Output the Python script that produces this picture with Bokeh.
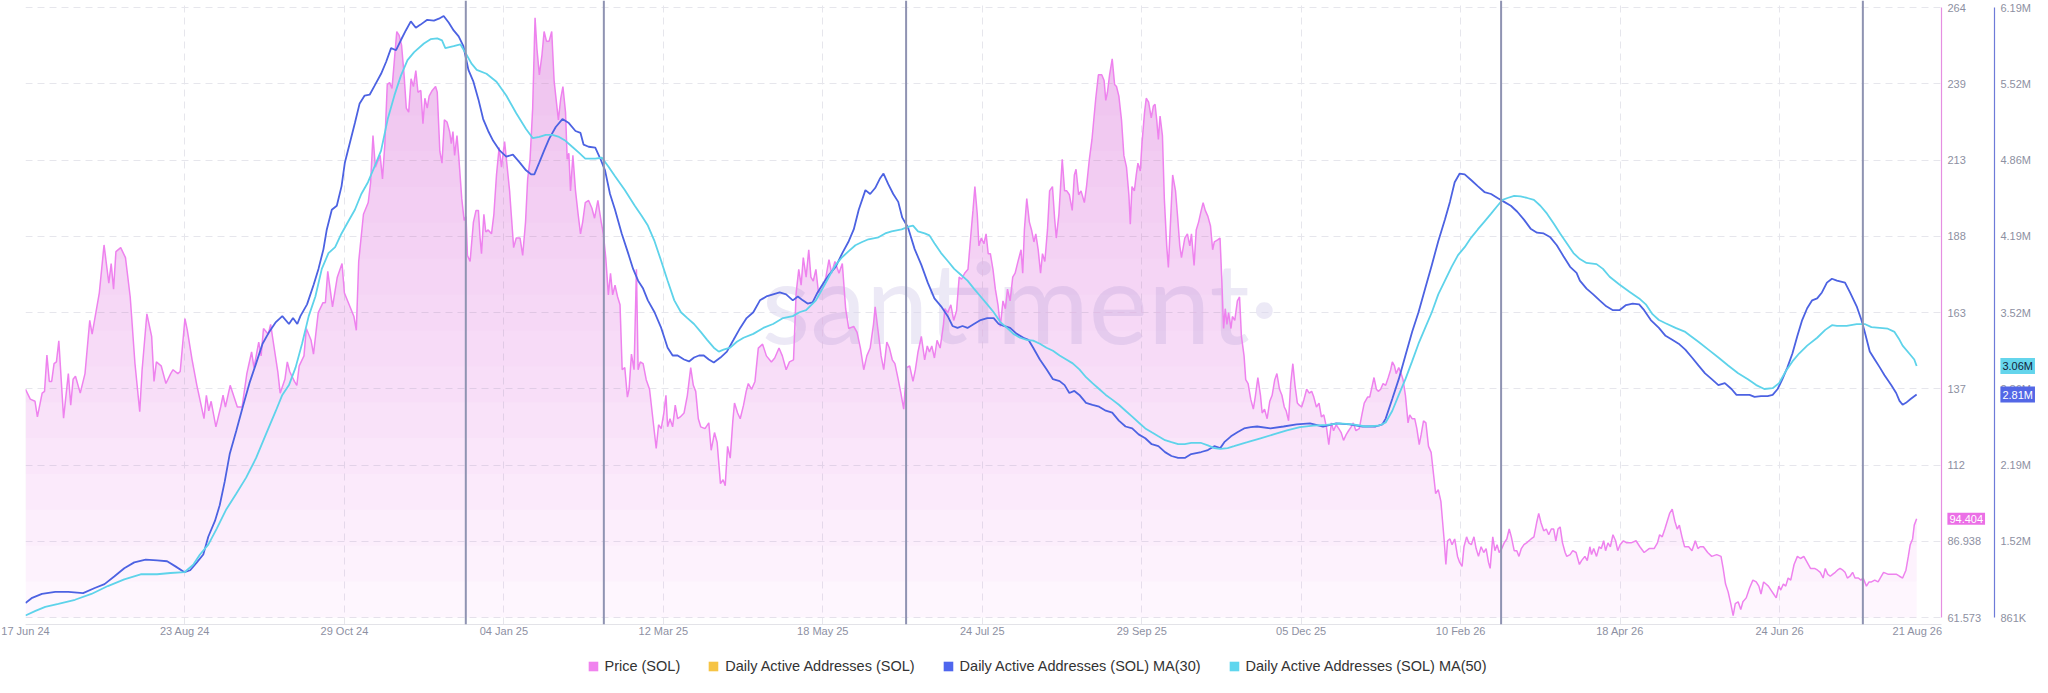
import numpy as np
import pandas as pd
from bokeh.plotting import figure
from bokeh.layouts import column
from bokeh.models import (Range1d, LinearAxis, FixedTicker, CustomJSTickFormatter,
                          Span, Label, Legend, LegendItem, BoxAnnotation)
from bokeh.embed import file_html
from bokeh.resources import INLINE

START = "2024-06-17"

# ---------------- data ----------------
price_days = [0, 2, 4, 5, 7, 8, 9, 10, 11, 12, 13, 14, 15, 16, 18, 19, 20, 21, 23, 25, 27, 28, 29, 31, 33, 35, 36, 37, 38, 40,
              42, 44, 46, 48, 49, 51, 53, 54, 55, 57, 59, 61, 62, 64, 65, 67, 68, 70, 72, 75, 76, 77, 78, 80, 82, 83, 84, 86, 89, 91,
              93, 95, 96, 98, 99, 100, 102, 103, 104, 106, 107, 109, 110, 111, 113, 114, 115, 117, 118, 120, 121, 123, 125, 126, 127, 129, 131, 133, 134, 136,
              138, 139, 140, 142, 144, 145, 146, 147, 149, 150, 151, 152, 153, 154, 156, 157, 158, 159, 160, 161,
              162.0, 163.0, 164.0, 164.9, 166.1, 167.0, 167.8, 168.8, 169.6, 170.9, 172.3, 173.0, 174.1, 175.0, 176.0, 177.1, 178.2, 178.9, 179.6, 180.3,
              181.3, 182.0, 183.3, 184.3, 185.1, 185.7, 186.8, 188.2, 189.3, 190.3, 191.0, 191.6, 192.6, 193.4, 194.4, 195.8, 196.8, 197.9, 199.0, 200.0,
              201.3, 202.4, 203.4, 204.1, 205.1, 206.2, 207.8, 208.9, 210.1, 211.0, 212.0, 213.1, 214.1, 214.9, 215.9, 217.0, 217.9, 218.9, 220.0, 221.1,
              222.1, 222.8, 223.9, 224.9, 225.8, 226.9, 227.6, 228.3, 229.0, 230.0, 231.1, 232.2, 233.2, 234.1, 235.2, 236.6, 238.0, 239.1, 240.5, 241.9,
              242.8, 243.8, 244.9, 245.8, 246.7, 247.7, 248.8, 249.8, 250.7, 251.8, 252.9, 253.6, 254.6, 255.7, 256.7, 257.4, 258.3, 259.5, 260.8, 262.2,
              263.6, 265.0, 266.0, 267.1, 268.2, 269.1, 269.8, 270.8, 271.9, 273.0, 274.0, 275.1, 276.7, 278.1, 279.5, 280.6, 281.6, 282.7, 283.7, 285.5,
              287.1, 288.1, 289.5, 290.6, 292.0, 293.1, 294.0, 295.0, 296.1, 297.2, 297.9, 299.2, 300.3, 301.7, 302.8, 303.7, 305.1, 306.5, 307.9, 309.7,
              311.3, 313.4, 314.8, 316.6, 318.0, 319.6, 321.0, 322.7,
              323.8, 324.9, 325.9, 326.8, 328.0, 329.1, 330.0, 331.0, 332.1, 333.2, 334.6, 336.3, 337.6, 338.7, 340.1, 341.8, 343.2, 344.6, 345.9, 348.0,
              349.4, 350.8, 352.2, 353.5, 354.9, 356.3, 357.0, 358.1, 359.5, 360.6, 361.9, 363.0, 364.2, 365.3, 366.7, 367.8, 369.0, 370.2, 371.5, 372.9,
              373.9, 375.0, 376.4, 377.8, 378.9, 379.8, 380.8, 381.9, 383.0, 384.3, 385.7, 386.3, 387.5, 388.8, 390.0, 391.2, 392.3, 393.3, 394.6, 396.0,
              397.1, 398.1, 398.9, 399.9, 400.6, 401.6, 402.7, 403.6, 404.5, 405.4, 406.5, 407.5, 408.6, 409.6, 410.7, 411.7, 412.6, 413.7, 414.8, 415.8,
              417.2, 418.3, 419.0, 419.7, 420.7, 421.8, 422.7, 423.7, 424.5, 425.5, 426.5, 427.3, 428.3, 429.4, 430.3, 431.5, 432.4, 433.1, 434.2, 435.6,
              436.6, 437.5, 438.6, 439.8, 440.7, 441.4, 442.5, 443.5, 444.9, 445.8, 447.0, 448.1, 449.0, 449.7, 450.8, 452.2, 453.2, 453.9, 454.6, 455.5,
              456.6, 457.6, 458.4, 459.4, 460.5, 461.5, 462.6, 463.6, 464.2, 464.9, 465.9, 466.7, 467.4, 468.4, 469.1, 470.2, 470.9, 471.9, 473.0, 473.9,
              474.6, 475.3, 476.0, 476.7, 477.7, 478.5, 479.5, 480.2, 481.1, 482.0, 483.2, 484.0, 485.0,
              485.7, 487.1, 488.2, 489.2, 489.9, 491.0, 491.9, 492.9, 494.0, 494.8, 495.7, 496.8, 497.9, 498.8, 499.5, 500.9, 501.9, 502.6, 503.4, 504.1,
              504.8, 505.5, 506.5, 507.1, 508.1, 509.2, 510.1, 510.9, 512.0, 512.7, 513.7, 514.8, 515.9, 516.8, 517.8, 518.9, 519.6, 520.6, 521.7, 522.8,
              523.8, 524.9, 525.8, 526.9, 527.9, 528.9, 529.7, 530.7, 531.6, 532.5, 533.4, 534.4, 535.2, 536.2, 537.2, 538.3, 539.4, 540.4, 541.3, 542.4,
              543.5, 544.5, 545.5, 546.6, 547.6, 548.7, 549.6, 550.7, 551.8, 552.8, 553.8, 554.9, 555.9, 557.0, 557.9, 559.0, 560.4, 561.5, 562.5, 563.9,
              564.8, 565.7, 566.6, 567.6, 568.4, 569.4, 570.4, 571.5, 572.6, 573.6, 574.3, 575.2, 575.9, 577.0, 578.0, 578.8, 579.8, 580.9, 581.6, 582.6,
              583.7, 584.6, 585.6, 586.4, 587.4, 588.4, 589.5, 590.6, 591.6, 592.5, 593.6, 594.7, 595.4, 596.1, 596.8, 597.5, 598.5, 599.4, 600.5, 601.7,
              602.6, 603.6, 604.4, 605.5, 606.4, 607.5, 608.6, 609.5, 610.5, 611.6, 612.7, 613.7, 614.7, 615.4, 616.5, 617.4, 618.3, 619.2, 620.3, 621.3,
              622.4, 623.4, 624.3, 625.5, 626.6, 627.5, 628.5, 629.6, 630.7, 631.7, 632.6, 633.8, 634.9, 635.8, 636.8, 637.9, 639.0, 640.0, 641.1, 642.1,
              643.0, 643.9, 644.8, 645.8, 646.9,
              647.6, 649.0, 650.1, 651.5, 652.9, 653.8, 655.2, 656.2, 657.3, 658.0, 658.9, 660.1, 661.2, 662.1, 663.1, 663.9, 664.9, 665.9, 667.0, 668.1,
              669.0, 670.0, 671.4, 672.8, 674.6, 676.7, 678.3, 680.1, 682.2, 684.3, 685.7, 686.6, 687.7, 688.8, 689.8, 690.8, 691.9, 693.0, 694.0, 694.9,
              696.0, 697.1, 698.8, 700.2, 701.6, 702.7, 703.6, 705.0, 706.8, 708.5, 710.6, 712.4, 713.3, 714.3, 715.4, 716.5, 717.5, 718.4, 719.6, 720.7,
              721.6, 723.0, 724.4, 725.8, 727.2, 728.3, 729.2, 730.3, 731.3, 732.3, 733.4, 734.5, 735.6, 736.7, 737.5, 738.6, 739.6, 740.6, 741.7, 743.1,
              744.5, 745.8, 747.2, 748.6, 750.0, 751.7, 753.0, 754.1, 755.3, 756.2, 757.2, 758.3, 759.4, 760.4, 761.3, 762.4, 763.6, 764.5, 765.5, 766.6,
              767.7, 768.7, 770.1, 771.2, 772.1, 773.5, 774.6, 775.6, 777.0, 778.4, 779.3, 780.7, 782.5, 784.6, 786.0, 787.4, 788.7, 790.1, 791.1, 791.9,
              792.9, 793.6, 794.6]

price = [137.5, 134.2, 133.5, 128.3, 136.2, 136.8, 148.9, 140.1, 140.1, 146.0, 146.6, 153.6, 140.8, 127.9, 142.7, 132.2, 140.8, 141.8, 136.2, 142.7,
         160.4, 155.8, 160.4, 169.5, 185.5, 172.8, 179.3, 170.8, 183.3, 184.6, 181.3, 168.2, 146.0, 130.0, 144.0, 162.6, 155.1, 140.1, 146.6, 145.3,
         139.4, 142.7, 144.0, 142.7, 143.4, 161.0, 157.1, 147.3, 138.8, 127.7, 135.5, 130.3, 133.5, 125.0, 131.6, 135.5, 131.6, 138.8, 131.6, 131.6,
         142.7, 149.9, 144.7, 153.2, 148.6, 157.7, 155.8, 159.1, 153.8, 143.4, 136.2, 140.8, 146.6, 143.4, 140.1, 138.8, 145.3, 148.6, 157.7, 153.8,
         149.2, 163.0, 166.3, 166.3, 176.7, 164.9, 174.8, 179.3, 169.5, 165.6, 161.7, 157.1, 180.0, 195.7, 199.6, 206.2, 221.9, 211.4, 215.3, 207.5,
         219.3, 238.9, 239.5, 237.6, 256.5, 255.2, 252.0, 242.8, 231.0, 229.7,
         240.8, 238.2, 243.5, 236.3, 236.9, 225.8, 234.3, 231.0, 235.0, 236.9, 238.2, 236.3, 216.6, 212.7, 227.1, 226.4, 223.2, 219.2, 223.2, 215.3,
         221.9, 215.3, 200.9, 193.7, 195.0, 182.0, 180.0, 193.1, 197.0, 197.0, 187.8, 182.6, 195.7, 189.8, 190.5, 189.2, 195.7, 208.8, 217.9, 211.4,
         219.9, 211.4, 203.5, 195.7, 184.6, 187.8, 187.8, 182.0, 193.1, 207.5, 214.0, 231.0, 261.1, 250.7, 242.1, 248.7, 256.5, 253.3, 253.3, 256.5,
         240.2, 235.0, 227.1, 234.3, 238.2, 229.7, 214.0, 216.0, 203.5, 215.3, 203.5, 195.7, 189.2, 193.1, 199.6, 200.3, 197.7, 194.4, 200.3, 193.1,
         189.2, 181.3, 168.9, 176.1, 168.9, 172.1, 168.2, 165.6, 144.0, 144.7, 134.9, 137.5, 149.2, 144.0, 177.4, 144.0, 146.6, 146.0, 140.7, 137.5,
         127.7, 117.8, 125.7, 124.4, 129.6, 135.5, 125.0, 127.7, 125.0, 132.2, 127.7, 128.3, 129.6, 135.5, 144.7, 138.8, 136.8, 127.7, 125.0, 124.4,
         126.3, 117.2, 123.1, 119.8, 106.1, 107.4, 105.4, 118.5, 114.6, 127.0, 132.9, 129.6, 127.7, 132.2, 136.8, 139.4, 137.5, 140.1, 151.2, 152.5,
         148.6, 146.6, 147.9, 151.2, 148.6, 144.0, 146.6, 147.3,
         169.5, 177.4, 172.1, 181.3, 174.8, 183.9, 174.8, 173.5, 177.4, 169.5, 170.8, 174.8, 180.6, 176.1, 180.0, 176.1, 179.3, 164.3, 157.7, 158.4,
         156.4, 151.2, 144.0, 148.6, 151.2, 159.1, 164.9, 157.7, 148.6, 144.0, 153.2, 151.2, 147.3, 146.0, 140.7, 136.2, 130.9, 144.7, 145.3, 140.1,
         144.0, 149.9, 155.1, 147.3, 151.9, 149.9, 151.9, 147.9, 153.8, 151.2, 159.1, 164.3, 163.0, 165.6, 160.4, 163.6, 174.8, 174.1, 176.1, 177.4,
         187.8, 197.0, 204.9, 195.7, 185.2, 187.8, 185.9, 189.2, 182.6, 182.6, 177.4, 170.8, 165.6, 158.4, 166.9, 164.3, 170.8, 166.9, 174.8, 176.1,
         180.6, 183.9, 176.1, 190.5, 200.9, 193.1, 190.5, 186.5, 189.2, 183.9, 176.1, 182.6, 180.0, 190.5, 203.5, 204.9, 194.4, 187.8, 195.7, 214.0,
         203.5, 203.5, 202.2, 197.0, 208.8, 210.7, 202.2, 203.5, 199.6, 204.9, 214.0, 220.6, 228.4, 234.3, 242.1, 242.1, 240.2, 233.6, 236.3, 242.1,
         247.4, 238.9, 238.2, 235.0, 227.1, 215.3, 211.4, 202.2, 192.4, 204.9, 203.5, 208.8, 212.7, 210.1, 219.2, 229.7, 234.3, 233.0, 227.8, 231.7,
         232.3, 227.1, 220.6, 228.4, 221.9, 200.9, 185.2, 178.0, 193.1, 208.8, 203.5, 195.7, 185.2,
         181.3, 187.8, 189.2, 185.2, 189.2, 178.7, 190.5, 193.1, 197.0, 199.6, 197.0, 195.0, 191.8, 183.9, 186.5, 187.2, 187.8, 174.8, 157.7, 164.3,
         159.1, 163.0, 157.7, 161.7, 160.4, 166.9, 168.2, 155.1, 148.6, 140.7, 139.4, 134.2, 130.9, 135.5, 141.4, 135.5, 129.6, 130.9, 127.7, 133.5,
         135.5, 140.7, 142.7, 137.5, 135.5, 131.6, 130.3, 127.0, 139.4, 146.0, 138.8, 132.9, 132.2, 131.6, 134.2, 137.5, 136.2, 136.8, 134.9, 131.6,
         132.9, 128.3, 129.0, 125.0, 119.1, 126.3, 123.7, 125.7, 124.4, 123.1, 120.5, 122.4, 123.7, 125.0, 126.3, 123.7, 124.4, 129.0, 132.9, 134.9,
         134.9, 138.1, 141.4, 137.5, 136.8, 137.5, 139.4, 138.8, 141.4, 144.0, 146.6, 145.3, 142.7, 144.7, 142.7, 140.7, 135.5, 126.3, 129.0, 127.7,
         127.7, 124.4, 119.1, 122.4, 127.0, 126.3, 118.5, 116.5, 109.3, 102.8, 104.1, 100.2, 93.6, 87.1, 79.2, 87.1, 87.7, 85.8, 87.7, 81.9,
         79.9, 78.6, 85.1, 88.4, 86.4, 85.8, 88.4, 84.5, 81.9, 85.1, 83.2, 84.5, 79.9, 77.9, 88.4, 83.8, 85.8, 83.2, 84.5, 86.4,
         87.7, 91.0, 88.4, 83.8, 83.8, 81.9, 84.5, 85.8, 86.4, 87.1, 87.7, 88.4, 93.0, 96.2, 93.0, 90.4, 91.0, 89.1, 91.0, 91.0,
         87.1, 91.0, 91.7, 86.4, 83.2,
         81.9, 82.5, 83.8, 83.2, 79.2, 80.5, 81.9, 80.5, 85.1, 82.5, 84.5, 81.9, 85.1, 84.5, 87.1, 83.8, 86.4, 85.1, 89.1, 87.1,
         83.8, 85.8, 87.1, 86.4, 86.4, 87.1, 85.1, 83.2, 84.5, 84.5, 86.4, 89.1, 88.4, 91.0, 93.6, 96.2, 97.6, 93.6, 91.0, 92.3,
         88.4, 85.1, 85.1, 83.8, 87.1, 84.5, 85.1, 85.1, 83.2, 81.9, 82.5, 81.9, 77.9, 72.7, 70.1, 66.2, 62.2, 66.2, 66.8, 64.2,
         66.8, 68.1, 71.4, 74.0, 73.4, 72.0, 69.4, 73.4, 72.7, 72.0, 70.7, 69.4, 68.1, 72.0, 70.7, 72.7, 72.0, 74.7, 74.0, 79.2,
         81.9, 81.2, 81.9, 79.9, 77.9, 77.9, 77.3, 76.6, 74.7, 77.9, 76.0, 75.3, 76.0, 76.6, 77.3, 77.9, 77.3, 76.6, 74.7, 75.3,
         76.6, 74.7, 74.7, 74.0, 74.7, 72.0, 73.4, 73.4, 74.0, 73.4, 74.7, 76.6, 76.0, 76.0, 76.0, 75.3, 74.7, 77.3, 81.9, 85.8,
         87.7, 92.3, 94.404]

# Daily Active Addresses (SOL) MA(30), in millions
ma30_days = [0.0, 2.8, 6.9, 12.5, 18.0, 24.2, 29.1, 33.2, 37.4, 41.5, 45.7, 50.5, 55.3, 59.5, 63.0, 66.8, 69.2, 72.0, 74.7, 76.8,
             79.6, 81.6, 83.7, 85.8, 88.6, 91.3, 94.1, 96.9, 99.6, 102.4, 105.2, 107.9, 110.7, 112.4, 114.2, 115.5, 118.3, 121.1, 123.1, 125.2,
             126.6, 128.7, 130.8, 132.8, 134.2, 136.3, 138.4, 140.4, 142.5, 144.6, 146.7, 149.4, 151.5, 153.6, 155.7, 157.7, 159.8, 161.9,
             164.0, 166.0, 168.8, 171.6, 173.7, 175.7, 177.8, 179.9, 182.0, 184.0, 186.1, 188.2, 190.3, 192.3, 194.4, 196.5, 199.3, 202.0, 204.8, 207.6,
             210.3, 212.4, 213.8, 215.9, 217.9, 220.0, 222.8, 225.6, 228.3, 231.1, 233.2, 234.5, 236.6, 239.4, 241.5, 243.5, 245.6, 247.7, 250.5, 253.2,
             255.3, 257.4, 259.5, 261.5, 264.3, 267.1, 269.8, 271.9, 274.0, 276.7, 278.8, 280.9, 283.0, 285.0, 287.1, 289.2, 292.0, 294.7, 297.5, 300.3,
             303.0, 305.8, 308.6, 311.3, 314.1, 316.9, 319.6, 322.4, 324.5, 326.6,
             328.6, 330.7, 332.8, 334.9, 337.6, 340.4, 343.2, 345.9, 348.0, 350.1, 352.9, 354.9, 357.0, 359.1, 360.5, 362.5, 364.6, 366.7, 368.4, 370.8,
             373.6, 376.4, 379.1, 381.9, 384.7, 387.5, 389.5, 391.6, 393.7, 395.8, 398.5, 401.3, 404.1, 406.8, 408.9, 411.0, 413.7, 416.5, 419.3, 421.4,
             423.4, 426.2, 429.0, 431.7, 434.5, 436.6, 438.6, 440.7, 442.8, 445.6, 448.3, 451.1, 453.9, 456.6, 459.4, 462.2, 465.0, 467.7, 470.5, 473.2,
             476.0, 478.8, 481.5, 484.3, 487.1, 489.8,
             494.0, 496.8, 499.5, 502.0, 503.7, 506.5, 509.2, 512.0, 514.8, 517.5, 523.1, 528.6, 534.1, 539.7, 545.2, 550.7, 556.3, 561.8, 567.3, 570.1,
             571.5, 574.3, 577.0, 579.8, 582.6, 585.3, 588.1, 590.9, 593.6, 596.4, 598.5, 600.5, 602.6, 604.7, 607.5, 610.2, 613.0, 615.8, 618.5, 621.3,
             624.1, 626.8, 629.6, 632.4, 635.1, 637.9, 640.7, 643.4, 646.2, 649.0, 651.7,
             653.1, 655.9, 658.7, 661.4, 664.2, 667.0, 669.7, 672.5, 675.3, 678.0, 680.1, 682.9, 686.3, 689.1, 691.9, 694.6, 697.4, 700.2, 702.9, 705.7,
             708.5, 711.3, 714.0, 716.8, 718.9, 721.6, 724.4, 726.5, 729.2, 732.0, 734.1, 736.2, 738.2, 740.3, 742.4, 744.5, 746.5, 748.6, 750.7, 752.8,
             754.8, 756.9, 759.0, 761.1, 764.5, 766.6, 769.4, 771.4, 772.8, 774.9, 777.0, 779.1, 781.1, 783.9, 786.0, 787.4, 788.7, 790.1, 792.2, 794.6]

ma30 = [0.988, 1.033, 1.067, 1.085, 1.085, 1.074, 1.119, 1.153, 1.222, 1.291, 1.343, 1.367, 1.360, 1.353, 1.308, 1.257, 1.274, 1.343, 1.412, 1.567,
        1.705, 1.842, 2.049, 2.290, 2.497, 2.704, 2.910, 3.083, 3.255, 3.358, 3.444, 3.496, 3.427, 3.479, 3.427, 3.496, 3.599, 3.772, 3.909, 4.082,
        4.254, 4.426, 4.461, 4.633, 4.840, 5.012, 5.184, 5.356, 5.425, 5.432, 5.511, 5.615, 5.718, 5.839, 5.821, 5.908, 5.994, 6.073,
        6.018, 6.045, 6.087, 6.080, 6.097, 6.121, 6.063, 5.994, 5.942, 5.856, 5.649, 5.546, 5.391, 5.219, 5.115, 5.029, 4.943, 4.891, 4.908, 4.840,
        4.771, 4.736, 4.736, 4.840, 4.943, 5.046, 5.150, 5.219, 5.184, 5.115, 5.098, 4.995, 4.977, 4.970, 4.874, 4.771, 4.564, 4.426, 4.219, 4.047,
        3.909, 3.806, 3.737, 3.634, 3.530, 3.393, 3.220, 3.152, 3.152, 3.117, 3.100, 3.134, 3.152, 3.152, 3.117, 3.090, 3.134, 3.186, 3.289, 3.393,
        3.479, 3.530, 3.634, 3.668, 3.686, 3.703, 3.686, 3.634, 3.668, 3.634,
        3.606, 3.617, 3.703, 3.772, 3.858, 3.927, 4.047, 4.151, 4.254, 4.426, 4.598, 4.564, 4.616, 4.702, 4.743, 4.650, 4.564, 4.495, 4.357, 4.271,
        4.082, 3.944, 3.789, 3.651, 3.582, 3.496, 3.410, 3.393, 3.410, 3.393, 3.427, 3.462, 3.479, 3.479, 3.427, 3.410, 3.393, 3.341, 3.307, 3.289,
        3.220, 3.117, 3.031, 2.945, 2.928, 2.893, 2.824, 2.842, 2.807, 2.738, 2.721, 2.704, 2.669, 2.652, 2.583, 2.531, 2.514, 2.462, 2.428, 2.376,
        2.359, 2.307, 2.273, 2.256, 2.256, 2.290,
        2.308, 2.325, 2.359, 2.342, 2.394, 2.445, 2.480, 2.514, 2.525, 2.531, 2.514, 2.531, 2.549, 2.559, 2.531, 2.559, 2.549, 2.531, 2.531, 2.549,
        2.600, 2.773, 2.945, 3.152, 3.358, 3.530, 3.737, 3.944, 4.151, 4.340, 4.495, 4.667, 4.743, 4.736, 4.684, 4.633, 4.581, 4.564, 4.529, 4.495,
        4.461, 4.409, 4.340, 4.261, 4.226, 4.219, 4.185, 4.116, 4.020, 3.927, 3.875,
        3.806, 3.737, 3.686, 3.634, 3.582, 3.548, 3.548, 3.593, 3.606, 3.599, 3.548, 3.462, 3.393, 3.324, 3.289, 3.255, 3.203, 3.134, 3.065, 2.996,
        2.945, 2.893, 2.910, 2.859, 2.807, 2.807, 2.807, 2.790, 2.797, 2.797, 2.807, 2.859, 2.945, 3.048, 3.169, 3.324, 3.462, 3.565, 3.634, 3.651,
        3.703, 3.789, 3.823, 3.806, 3.789, 3.703, 3.582, 3.462, 3.358, 3.186, 3.117, 3.048, 2.979, 2.893, 2.824, 2.755, 2.721, 2.738, 2.773, 2.810]

# Daily Active Addresses (SOL) MA(50), in millions
ma50_days = [0.0, 4.2, 8.3, 13.8, 20.8, 27.7, 34.6, 41.5, 48.4, 55.3, 60.9, 66.8, 70.6, 73.3, 76.8, 80.3, 84.4, 88.6, 92.7, 96.9,
             101.0, 105.2, 107.9, 110.7, 113.5, 116.2, 119.0, 121.8, 124.5, 127.3, 130.1, 132.8, 135.6, 138.4, 141.1, 143.9, 146.7, 149.4, 152.2, 155.0,
             157.7, 160.5, 163.3,
             167.4, 170.2, 173.0, 175.0, 176.4, 179.9, 182.7, 184.7, 187.5, 189.6, 193.7, 197.9, 202.0, 206.2, 210.3, 213.1, 215.9, 218.6, 221.4, 224.2,
             226.9, 229.7, 232.5, 235.2, 239.4, 242.2, 244.9, 247.7, 251.8, 256.0, 258.8, 261.5, 264.3, 267.1, 269.8, 272.6, 275.4, 278.1, 280.9, 283.7,
             286.4, 289.2, 291.3, 293.3, 296.1, 298.9, 301.7, 305.8, 310.0, 314.1, 318.3, 322.4, 325.2, 328.0,
             332.1, 334.9, 337.6, 340.4, 343.2, 345.9, 348.7, 351.5, 354.2, 358.4, 361.2, 363.9, 368.1, 371.5, 372.9, 375.0, 377.8, 379.8, 381.9, 384.7,
             387.5, 390.2, 393.0, 395.8, 398.5, 401.3, 404.1, 406.8, 409.6, 412.4, 415.1, 417.9, 420.7, 423.4, 426.2, 429.0, 431.7, 434.5, 437.3, 440.0,
             442.8, 445.6, 448.3, 451.1, 453.9, 456.6, 459.4, 462.2, 465.0, 467.7, 470.5, 473.2, 476.0, 478.8, 481.5, 484.3, 487.1, 489.8,
             494.0, 496.8, 499.5, 502.0, 505.1, 507.8, 510.6, 513.4, 518.9, 524.4, 530.0, 535.5, 541.0, 546.6, 552.1, 557.6, 563.2, 568.7, 571.5, 574.3,
             577.0, 579.8, 582.6, 585.3, 588.1, 590.9, 593.6, 596.4, 599.2, 601.9, 604.7, 607.5, 610.2, 613.0, 615.8, 618.5, 620.6, 622.7, 625.5, 628.2,
             631.0, 633.8, 636.5, 639.3, 642.1, 644.8, 647.6,
             650.4, 653.1, 655.9, 660.1, 662.8, 665.6, 669.7, 673.9, 678.0, 680.8, 683.6, 686.3, 689.1, 693.3, 697.4, 699.5, 702.9, 707.1, 711.3, 715.4,
             719.6, 723.7, 727.2, 730.6, 734.1, 736.8, 739.6, 742.4, 745.2, 748.6, 752.8, 756.2, 759.0, 761.1, 765.2, 769.4, 772.8, 775.6, 779.1, 782.5,
             785.3, 787.4, 788.7, 791.5, 793.6, 794.6]

ma50 = [0.878, 0.919, 0.954, 0.981, 1.016, 1.067, 1.136, 1.195, 1.239, 1.239, 1.250, 1.257, 1.326, 1.412, 1.498, 1.636, 1.808, 1.946, 2.084, 2.256,
        2.462, 2.669, 2.807, 2.893, 3.048, 3.255, 3.496, 3.668, 3.909, 4.047, 4.099, 4.219, 4.323, 4.426, 4.564, 4.667, 4.805, 4.943, 5.219, 5.426,
        5.597, 5.735, 5.804,
        5.880, 5.918, 5.925, 5.907, 5.839, 5.856, 5.873, 5.804, 5.701, 5.649, 5.615, 5.546, 5.425, 5.270, 5.132, 5.053, 5.063, 5.081, 5.081, 5.063,
        5.029, 4.977, 4.926, 4.874, 4.874, 4.881, 4.805, 4.719, 4.598, 4.461, 4.375, 4.288, 4.151, 3.978, 3.806, 3.634, 3.530, 3.479, 3.427, 3.358,
        3.289, 3.220, 3.186, 3.203, 3.220, 3.272, 3.307, 3.341, 3.393, 3.427, 3.479, 3.496, 3.530, 3.548,
        3.634, 3.737, 3.840, 3.944, 4.013, 4.064, 4.116, 4.144, 4.168, 4.185, 4.219, 4.237, 4.254, 4.281, 4.288, 4.237, 4.219, 4.202, 4.133, 4.047,
        3.978, 3.909, 3.858, 3.806, 3.737, 3.668, 3.599, 3.530, 3.444, 3.393, 3.341, 3.307, 3.289, 3.282, 3.255, 3.220, 3.193, 3.152, 3.117, 3.083,
        3.031, 2.962, 2.910, 2.859, 2.807, 2.766, 2.721, 2.669, 2.617, 2.566, 2.514, 2.480, 2.445, 2.411, 2.394, 2.377, 2.377, 2.387,
        2.387, 2.366, 2.342, 2.335, 2.342, 2.359, 2.377, 2.394, 2.428, 2.462, 2.497, 2.525, 2.538, 2.545, 2.559, 2.549, 2.531, 2.538, 2.566, 2.669,
        2.807, 2.945, 3.100, 3.255, 3.393, 3.530, 3.686, 3.806, 3.927, 4.030, 4.099, 4.185, 4.254, 4.323, 4.392, 4.461, 4.512, 4.529, 4.547, 4.543,
        4.529, 4.512, 4.461, 4.392, 4.306, 4.219, 4.133,
        4.047, 3.995, 3.961, 3.951, 3.909, 3.840, 3.772, 3.710, 3.651, 3.599, 3.513, 3.462, 3.434, 3.393, 3.358, 3.324, 3.272, 3.203, 3.134, 3.065,
        2.996, 2.945, 2.893, 2.859, 2.866, 2.910, 3.014, 3.100, 3.169, 3.238, 3.307, 3.376, 3.417, 3.410, 3.410, 3.427, 3.427, 3.400, 3.393, 3.386,
        3.358, 3.289, 3.238, 3.169, 3.117, 3.060]

x_tick_dates = ["2024-06-17", "2024-08-23", "2024-10-29", "2025-01-04", "2025-03-12", "2025-05-18",
                "2025-07-24", "2025-09-29", "2025-12-05", "2026-02-10", "2026-04-18", "2026-06-24", "2026-08-21"]
event_dates = ["2024-12-19", "2025-02-15", "2025-06-22", "2026-02-27", "2026-07-29"]
price_ticks = [61.573, 86.938, 112.303, 137.668, 163.033, 188.398, 213.763, 239.128, 264.493]
daa_ticks = [0.861, 1.5277, 2.1944, 2.8611, 3.5278, 4.1945, 4.8612, 5.5279, 6.1946]

legend_labels = ["Price (SOL)", "Daily Active Addresses (SOL)",
                 "Daily Active Addresses (SOL) MA(30)", "Daily Active Addresses (SOL) MA(50)"]
legend_colors = ["#f083ee", "#f6c445", "#4f66ee", "#5fd6ee"]

PRICE_COLOR = "#ee82ee"
MA30_COLOR = "#4c62e2"
MA50_COLOR = "#5ed3ea"
TICK_COLOR = "#8d90a2"
FONT = "Liberation Sans"

# ---------------- layout constants ----------------
FIG_W, FIG_H, LEG_H = 2048, 644, 44
BORDER_L, BORDER_B = 25, 20
FRAME_W = FIG_W - BORDER_L
FRAME_H = FIG_H - BORDER_B
PAD_PX = 7                                   # room so the end tick labels are not clipped
PX_PER_DAY = 2.38
X_END_DAYS = FRAME_W / PX_PER_DAY
PRICE_AXIS_DAY = 805.0
DAA_AXIS_DAY = PRICE_AXIS_DAY + 53 / PX_PER_DAY
BADGE_GAP_DAYS = 6 / PX_PER_DAY

t0 = pd.Timestamp(START)
def to_dt(days):
    return t0 + pd.to_timedelta(np.asarray(days, dtype=float), unit="D")

def ms(d):
    return pd.Timestamp(d).value / 1e6

def day_ms(n):
    return ms(t0) + n * 86400000.0

def padded(lo, hi):
    pad = PAD_PX / (FRAME_H - 2 * PAD_PX) * (hi - lo)
    return Range1d(lo - pad, hi + pad)

px = to_dt(price_days)
m30x = to_dt(ma30_days)
m50x = to_dt(ma50_days)
pr = np.asarray(price, dtype=float)

y0, y1 = price_ticks[0], price_ticks[-1]

p = figure(width=FIG_W, height=FIG_H, x_axis_type="datetime", y_axis_location="right",
           x_range=Range1d(day_ms(0), day_ms(X_END_DAYS)),
           y_range=padded(y0, y1),
           output_backend="svg", toolbar_location=None,
           min_border_left=BORDER_L, min_border_right=0,
           min_border_top=0, min_border_bottom=BORDER_B)
p.extra_y_ranges = {"daa": padded(daa_ticks[0], daa_ticks[-1])}
p.outline_line_color = None
p.background_fill_color = "white"
p.border_fill_color = "white"

# watermark
p.add_layout(Label(x=ms("2025-08-09"), y=167, text="santiment·", text_font="Lato",
                   text_font_size="112px", text_color="#d9d4ee", text_alpha=0.5,
                   text_align="center", text_baseline="alphabetic", level="underlay"))

# keep the grid out of the axis strip on the right
p.add_layout(BoxAnnotation(left=day_ms(PRICE_AXIS_DAY), fill_color="white", fill_alpha=1.0,
                           line_color=None, level="underlay"))

# gradient-like area under the price
p.varea(x=px, y1=y0, y2=pr, fill_color=PRICE_COLOR, fill_alpha=0.07)
levels = np.linspace(y0, y1, 18)[1:-1]
for L in levels:
    p.varea(x=px, y1=L, y2=np.maximum(pr, L), fill_color=PRICE_COLOR, fill_alpha=0.03)

p.line(px, pr, line_color=PRICE_COLOR, line_width=1.5)
p.line(m30x, ma30, y_range_name="daa", line_color=MA30_COLOR, line_width=1.8)
p.line(m50x, ma50, y_range_name="daa", line_color=MA50_COLOR, line_width=1.8)

for d in event_dates:
    p.add_layout(Span(location=ms(d), dimension="height", line_color="#8f93b2", line_width=2))

# x axis
xticks = [ms(d) for d in x_tick_dates]
xa = p.xaxis[0]
xa.ticker = FixedTicker(ticks=xticks)
xa.formatter = CustomJSTickFormatter(code="""
const M = ["Jan","Feb","Mar","Apr","May","Jun","Jul","Aug","Sep","Oct","Nov","Dec"];
const d = new Date(tick);
return String(d.getUTCDate()).padStart(2, "0") + " " + M[d.getUTCMonth()] + " " + String(d.getUTCFullYear()).slice(2);
""")
xa.bounds = (day_ms(0), day_ms(PRICE_AXIS_DAY))
xa.axis_line_color = "#e3e3e8"
xa.major_tick_line_color = None
xa.minor_tick_line_color = None
xa.major_tick_out = 0
xa.major_tick_in = 0
xa.major_label_standoff = 0
xa.major_label_text_font = FONT
xa.major_label_text_font_size = "11px"
xa.major_label_text_color = TICK_COLOR

p.xgrid.ticker = FixedTicker(ticks=xticks[:-1])
p.xgrid.grid_line_color = "#e6e6ec"
p.xgrid.grid_line_dash = "7 5"
p.ygrid.grid_line_color = "#e6e6ec"
p.ygrid.grid_line_dash = "7 5"

# price axis
ya = p.yaxis[0]
ya.fixed_location = day_ms(PRICE_AXIS_DAY)
ya.ticker = FixedTicker(ticks=price_ticks)
ya.formatter = CustomJSTickFormatter(code="return tick < 100 ? tick.toFixed(3) : Math.floor(tick).toString();")
ya.axis_line_color = "#e58fe2"
ya.axis_line_width = 1.2

# DAA axis
ab = LinearAxis(y_range_name="daa", ticker=FixedTicker(ticks=daa_ticks), fixed_location=day_ms(DAA_AXIS_DAY),
                formatter=CustomJSTickFormatter(code="return tick >= 1 ? (Math.floor(tick * 100 + 1e-6) / 100).toFixed(2) + 'M' : Math.round(tick * 1000) + 'K';"))
p.add_layout(ab, "right")
ab.axis_line_color = "#6e7bd8"
ab.axis_line_width = 1.2

for ax in (ya, ab):
    ax.bounds = (ax.ticker.ticks[0], ax.ticker.ticks[-1])
    ax.major_tick_line_color = None
    ax.minor_tick_line_color = None
    ax.major_tick_out = 0
    ax.major_tick_in = 0
    ax.major_label_standoff = 6
    ax.major_label_text_font = FONT
    ax.major_label_text_font_size = "11px"
    ax.major_label_text_color = TICK_COLOR

# last-value badges
p.add_layout(Label(x=day_ms(PRICE_AXIS_DAY + BADGE_GAP_DAYS), y=price[-1],
                   text=f"{price[-1]:.3f}", text_font=FONT, text_font_size="11px", text_color="white",
                   background_fill_color="#eb6fe6", text_baseline="middle", padding=2))
p.add_layout(Label(x=day_ms(DAA_AXIS_DAY + BADGE_GAP_DAYS), y=ma50[-1], y_range_name="daa",
                   text=f"{ma50[-1]:.2f}M", text_font=FONT, text_font_size="11px", text_color="#14233a",
                   background_fill_color="#64d5ec", text_baseline="middle", padding=2))
p.add_layout(Label(x=day_ms(DAA_AXIS_DAY + BADGE_GAP_DAYS), y=ma30[-1], y_range_name="daa",
                   text=f"{ma30[-1]:.2f}M", text_font=FONT, text_font_size="11px", text_color="white",
                   background_fill_color="#5367e6", text_baseline="middle", padding=2))

# legend strip below the chart
lf = figure(width=FIG_W, height=LEG_H, x_range=Range1d(0, 1), y_range=Range1d(0, 1),
            output_backend="svg", toolbar_location=None,
            x_axis_location=None, y_axis_location=None, min_border=0)
lf.outline_line_color = None
lf.background_fill_color = "white"
lf.border_fill_color = "white"
lf.xgrid.visible = False
lf.ygrid.visible = False
items = []
for lab, col in zip(legend_labels, legend_colors):
    r = lf.quad(left=[np.nan], right=[np.nan], top=[np.nan], bottom=[np.nan], fill_color=col, line_color=None)
    items.append(LegendItem(label=lab, renderers=[r]))
legend = Legend(items=items, orientation="horizontal", location="center",
                border_line_color=None, background_fill_alpha=0,
                label_text_font=FONT, label_text_font_size="14.5px", label_text_color="#333333",
                glyph_width=12, glyph_height=12, spacing=27, label_standoff=6,
                padding=6, margin=0)
lf.add_layout(legend, "center")

open("out.html", "w").write(file_html(column(p, lf), INLINE))
